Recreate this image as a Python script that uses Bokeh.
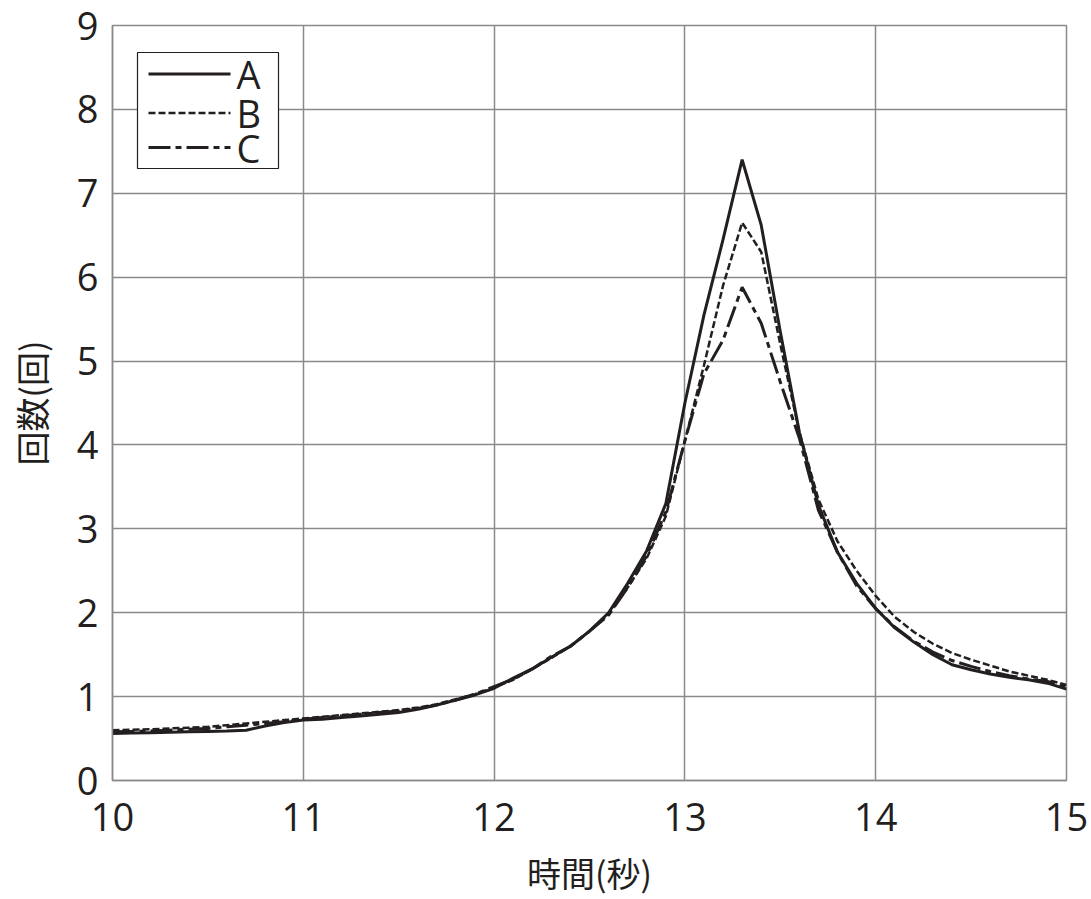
from bokeh.plotting import figure
from bokeh.models import Range1d, FixedTicker, Label, Arrow, BoxAnnotation
from bokeh.embed import file_html
from bokeh.resources import INLINE

t = [round(10 + 0.1 * i, 1) for i in range(51)]

series_a = [0.56, 0.565, 0.57, 0.575, 0.58, 0.585, 0.59, 0.60, 0.65, 0.69,
            0.72, 0.73, 0.75, 0.77, 0.79, 0.81, 0.85, 0.90, 0.96, 1.02,
            1.10, 1.22, 1.33, 1.47, 1.60, 1.78, 2.00, 2.35, 2.74, 3.30,
            4.50, 5.55, 6.45, 7.40, 6.62, 5.35, 4.15, 3.28, 2.72, 2.35,
            2.05, 1.82, 1.65, 1.50, 1.38, 1.32, 1.27, 1.23, 1.20, 1.16,
            1.09]

series_b = [0.60, 0.605, 0.61, 0.62, 0.63, 0.64, 0.66, 0.68, 0.70, 0.72,
            0.74, 0.76, 0.78, 0.80, 0.82, 0.84, 0.87, 0.91, 0.97, 1.03,
            1.11, 1.20, 1.33, 1.46, 1.60, 1.78, 1.98, 2.30, 2.65, 3.15,
            4.05, 4.95, 5.90, 6.65, 6.30, 5.20, 4.15, 3.35, 2.85, 2.50,
            2.20, 1.95, 1.77, 1.63, 1.52, 1.44, 1.37, 1.30, 1.25, 1.20,
            1.14]

series_c = [0.58, 0.585, 0.59, 0.60, 0.61, 0.62, 0.64, 0.66, 0.68, 0.70,
            0.73, 0.75, 0.77, 0.79, 0.81, 0.83, 0.86, 0.90, 0.96, 1.03,
            1.12, 1.21, 1.33, 1.48, 1.60, 1.78, 1.97, 2.30, 2.68, 3.20,
            4.05, 4.85, 5.25, 5.88, 5.45, 4.75, 4.08, 3.22, 2.72, 2.32,
            2.05, 1.83, 1.66, 1.53, 1.43, 1.36, 1.30, 1.25, 1.21, 1.18,
            1.12]

labels = ["A", "B", "C"]
x_ticks = [10, 11, 12, 13, 14, 15]
y_ticks = [0, 1, 2, 3, 4, 5, 6, 7, 8, 9]

LINE = "#231f20"
GRID = "#8a8a8a"
FONT = "Open Sans"
CJK = "Noto Sans CJK JP"

p = figure(width=1091, height=899, output_backend="svg", toolbar_location=None,
           x_range=Range1d(10, 15), y_range=Range1d(0, 9),
           min_border_left=112, min_border_right=25, min_border_top=25,
           min_border_bottom=119)

p.outline_line_color = GRID
p.outline_line_width = 1.5
p.background_fill_color = "white"

for ax in (p.xaxis[0], p.yaxis[0]):
    ax.axis_line_color = GRID
    ax.axis_line_width = 1.5
    ax.major_tick_line_color = None
    ax.minor_tick_line_color = None
    ax.major_tick_in = 0
    ax.major_tick_out = 0
    ax.major_label_text_font = FONT
    ax.major_label_text_font_size = "38px"
    ax.major_label_text_color = LINE
    ax.axis_label_text_font = CJK
    ax.axis_label_text_font_size = "34px"
    ax.axis_label_text_font_style = "normal"
    ax.axis_label_text_color = LINE

p.xaxis.ticker = FixedTicker(ticks=x_ticks)
p.yaxis.ticker = FixedTicker(ticks=y_ticks)
p.xaxis.axis_label = "時間(秒)"
p.yaxis.axis_label = "回数(回)"
p.xaxis.major_label_standoff = 22
p.yaxis.major_label_standoff = 14
p.xaxis.axis_label_standoff = 14
p.yaxis.axis_label_standoff = 18

p.xgrid.ticker = FixedTicker(ticks=x_ticks)
p.ygrid.ticker = FixedTicker(ticks=y_ticks)
p.xgrid.grid_line_color = GRID
p.ygrid.grid_line_color = GRID
p.xgrid.grid_line_width = 1.5
p.ygrid.grid_line_width = 1.5

styles = [dict(line_width=3, line_dash="solid"),
          dict(line_width=2.5, line_dash="7 3"),
          dict(line_width=3, line_dash="22 5 6 5")]

for ys, st in zip([series_a, series_b, series_c], styles):
    p.line(t, ys, line_color=LINE, **st)

# legend box (screen offsets from the frame's bottom-left corner)
box = BoxAnnotation(left=25, right=166, top=728, bottom=612,
                    left_units="screen", right_units="screen",
                    top_units="screen", bottom_units="screen",
                    fill_color="white", fill_alpha=1.0,
                    line_color=LINE, line_width=1.2, line_alpha=1.0)
p.add_layout(box)

row_y = [706.5, 667.5, 633]
for lab, st, yy in zip(labels, styles, row_y):
    p.add_layout(Arrow(end=None, x_start=36, x_end=118, y_start=yy, y_end=yy,
                       start_units="screen", end_units="screen",
                       line_color=LINE, **st))
    p.add_layout(Label(x=124, y=yy, x_units="screen", y_units="screen",
                       text=lab, text_font=FONT, text_font_size="38px",
                       text_color=LINE, text_baseline="middle",
                       text_align="left"))

open("out.html", "w").write(file_html(p, INLINE))
